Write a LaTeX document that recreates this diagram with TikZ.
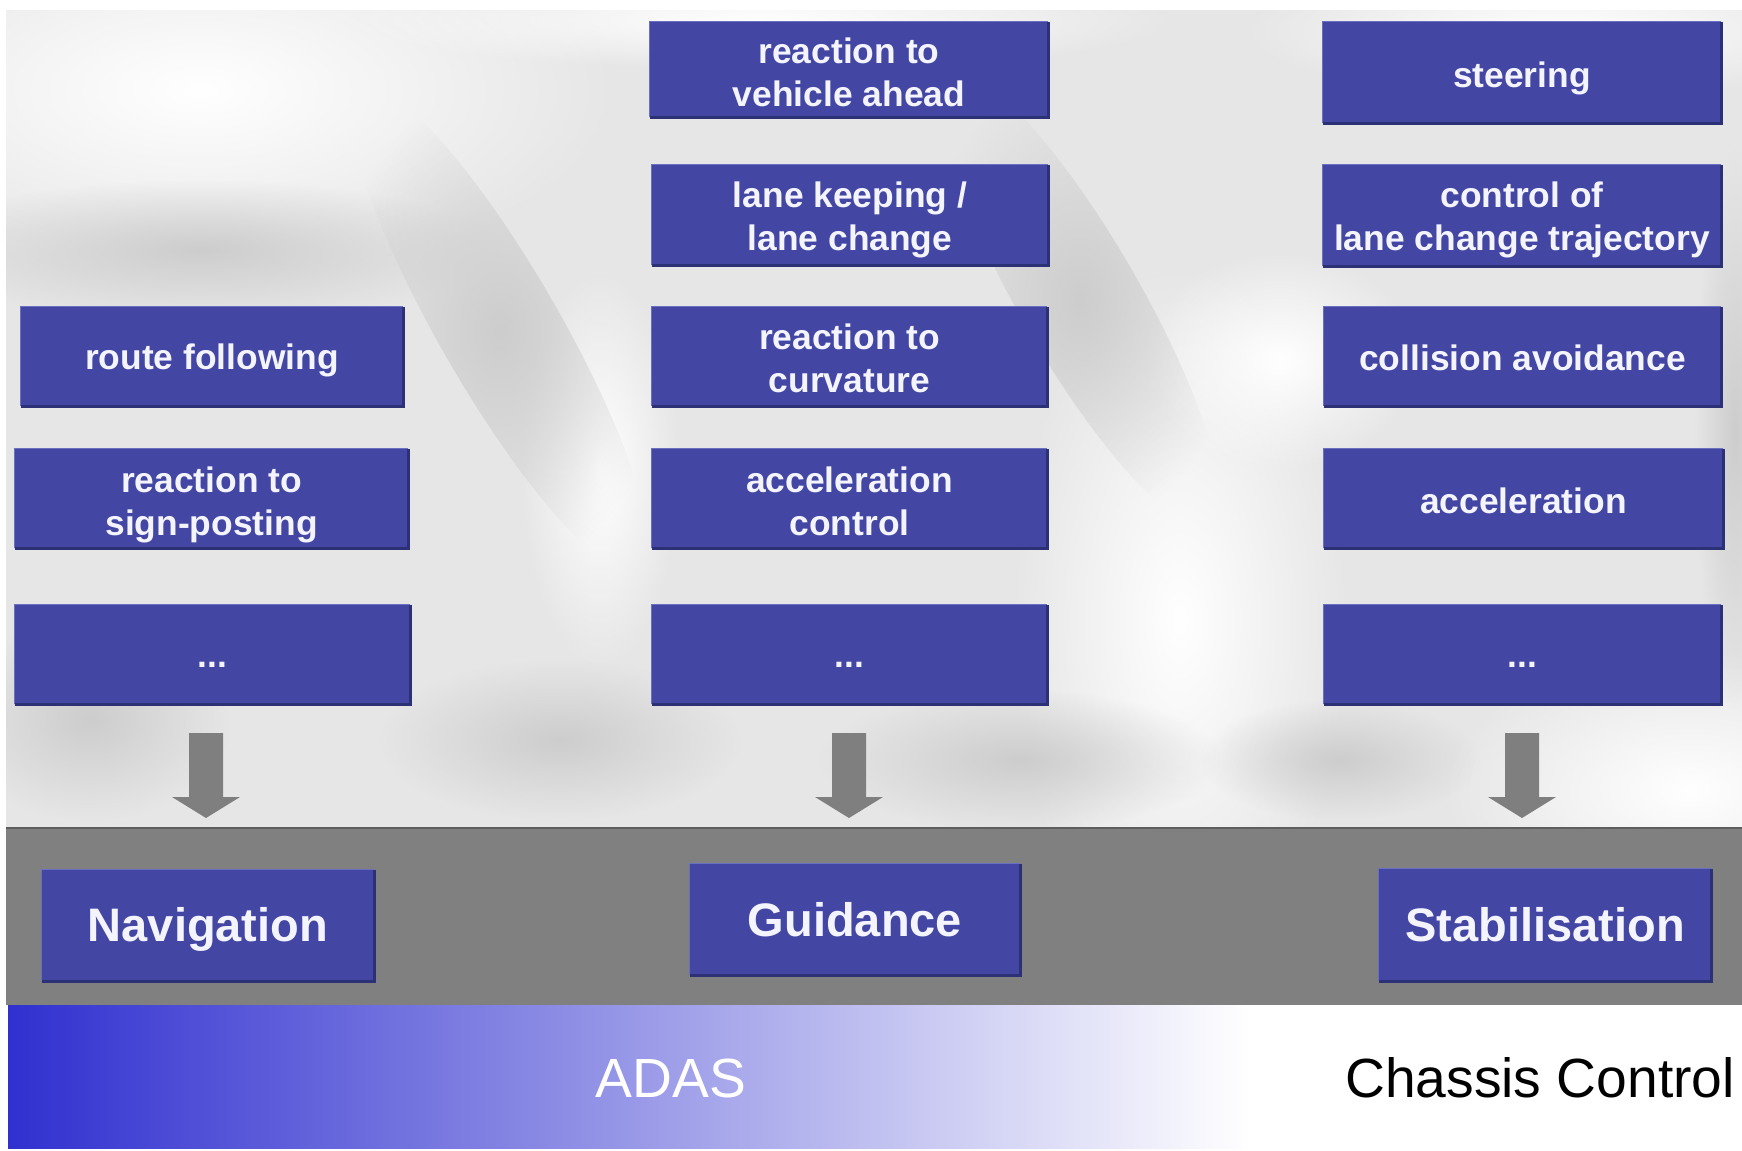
\documentclass[tikz,border=0pt]{standalone}
\usepackage{fontspec}
\setmainfont{Liberation Sans}
\usetikzlibrary{fadings,fit,calc}

\tikzfading[name=softblob, inner color=transparent!0, outer color=transparent!100]

\definecolor{boxblue}{HTML}{4347A3}
\definecolor{boxedge}{HTML}{2C3074}
\definecolor{boxtop}{HTML}{6A70C0}
\definecolor{boxtext}{HTML}{F4F4FF}
\definecolor{bandgray}{HTML}{808080}
\definecolor{bandline}{HTML}{5E5E5E}
\definecolor{arrowgray}{HTML}{7F7F7F}
\definecolor{adasblue}{HTML}{3030D0}
\definecolor{bggray}{HTML}{E6E6E6}
\definecolor{bgdark}{HTML}{CDCDCD}

\begin{document}
\begin{tikzpicture}[x=0.5pt,y=-0.5pt,
  fbox/.style={fill=boxblue, draw=none, inner sep=0pt},
  flabel/.style={text=boxtext, inner sep=0pt, align=center,
    font=\bfseries\fontsize{17.7}{21.5}\selectfont},
  biglabel/.style={flabel, font=\bfseries\fontsize{23.5}{28}\selectfont},
  edgeline/.style={boxedge, line width=1.2pt},
  topline/.style={boxtop, line width=0.6pt},
  blockarrow/.style={fill=arrowgray, draw=none},
  bandtext/.style={font=\fontsize{27.6}{33}\selectfont, inner sep=0pt},
  blob/.style={path fading=softblob}
]
\useasboundingbox (0,0) rectangle (1742,1151);
\fill[white] (0,0) rectangle (1742,1151);

% blurred photo background
\fill[bggray] (6,10) rectangle (1742,828);
\begin{scope}
\clip (6,10) rectangle (1742,828);
\fill[white, blob] (200,90) ellipse (420 and 190);
\fill[white, blob] (760,20) ellipse (420 and 50);
\fill[white, blob] (1180,620) ellipse (170 and 360);
\fill[white, blob] (1690,790) ellipse (250 and 140);
\fill[white, blob] (1560,30) ellipse (320 and 70);
\fill[white, blob] (1280,360) ellipse (140 and 110);
\fill[white, blob] (600,470) ellipse (80 and 200);
\fill[bgdark, blob] (200,250) ellipse (300 and 70);
\fill[bgdark, blob, rotate around={-60:(500,330)}] (500,330) ellipse (280 and 60);
\fill[bgdark, blob, rotate around={-60:(1080,300)}] (1080,300) ellipse (260 and 60);
\fill[bgdark, blob] (560,740) ellipse (180 and 80);
\fill[bgdark, blob] (1020,760) ellipse (200 and 70);
\fill[bgdark, blob] (1735,430) ellipse (40 and 280);
\fill[bgdark, blob] (90,720) ellipse (140 and 100);
\fill[bgdark, blob] (1340,760) ellipse (140 and 60);
\end{scope}

% bottom gray band
\fill[bandgray] (6,828) rectangle (1742,1005);
\draw[bandline, line width=1pt] (6,828) -- (1742,828);

% ADAS / chassis gradient band
\shade[left color=adasblue, right color=white] (8,1005) rectangle (1250,1148);

% boxes: left column
\node[fbox, fit={(21,307) (403,406)}] (rf) {};
\node[fbox, fit={(15,449) (408,548)}] (sp) {};
\node[fbox, fit={(15,605) (410,704)}] (ld) {};
% middle column
\node[fbox, fit={(650,22) (1048,117)}] (va) {};
\node[fbox, fit={(652,165) (1048,265)}] (lk) {};
\node[fbox, fit={(652,307) (1047,406)}] (cu) {};
\node[fbox, fit={(652,449) (1047,548)}] (ac) {};
\node[fbox, fit={(652,605) (1047,704)}] (md) {};
% right column
\node[fbox, fit={(1323,22) (1721,123)}] (st) {};
\node[fbox, fit={(1323,165) (1721,266)}] (lc) {};
\node[fbox, fit={(1324,307) (1721,406)}] (ca) {};
\node[fbox, fit={(1324,449) (1723,548)}] (acc) {};
\node[fbox, fit={(1324,605) (1721,704)}] (rd) {};
% bottom boxes
\node[fbox, fit={(42,870) (374,981)}] (nav) {};
\node[fbox, fit={(690,864) (1020,975)}] (gui) {};
\node[fbox, fit={(1379,869) (1711,981)}] (sta) {};

% box edges
\foreach \n in {rf,sp,ld,va,lk,cu,ac,md,st,lc,ca,acc,rd,nav,gui,sta}{
  \draw[edgeline] (\n.north east) -- (\n.south east) -- (\n.south west);
  \draw[topline] (\n.south west) -- (\n.north west) -- (\n.north east);
}

% labels
\node[flabel] (rf-t) at ($(rf.center)+(0,4)$) {route following};
\node[flabel] (sp-t) at ($(sp.center)+(0,6)$) {reaction to\\sign-posting};
\node[flabel] (ld-t) at ($(ld.center)+(0,10)$) {...};
\node[flabel] (va-t) at ($(va.center)+(0,3)$) {reaction to\\vehicle ahead};
\node[flabel] (lk-t) at ($(lk.center)+(0,5)$) {lane keeping /\\lane change};
\node[flabel] (cu-t) at ($(cu.center)+(0,2)$) {reaction to\\curvature};
\node[flabel] (ac-t) at ($(ac.center)+(0,3)$) {acceleration\\control};
\node[flabel] (md-t) at ($(md.center)+(0,10)$) {...};
\node[flabel] (st-t) at ($(st.center)+(0,6)$) {steering};
\node[flabel] (lc-t) at ($(lc.center)+(0,4)$) {control of\\lane change trajectory};
\node[flabel] (ca-t) at ($(ca.center)+(0,1)$) {collision avoidance};
\node[flabel] (acc-t) at ($(acc.center)+(0,2)$) {acceleration};
\node[flabel] (rd-t) at ($(rd.center)+(0,10)$) {...};
\node[biglabel] (nav-t) at ($(nav.center)+(0,4)$) {Navigation};
\node[biglabel] (gui-t) at (gui.center) {Guidance};
\node[biglabel] (sta-t) at (sta.center) {Stabilisation};

% block arrows
\foreach \c/\nm in {206/arL,849/arM,1522/arR}{
  \coordinate (\nm) at (\c,733);
  \fill[blockarrow] ($(\nm)+(-17,0)$) -- ($(\nm)+(17,0)$) -- ($(\nm)+(17,64)$)
    -- ($(\nm)+(34,64)$) -- ($(\nm)+(0,85)$) -- ($(\nm)+(-34,64)$)
    -- ($(\nm)+(-17,64)$) -- cycle;
}

% band labels
\node[bandtext, text=white] (adas) at (671,1078) {ADAS};
\node[bandtext, text=black] (chassis) at (1540,1078) {Chassis Control};
\end{tikzpicture}
\end{document}
